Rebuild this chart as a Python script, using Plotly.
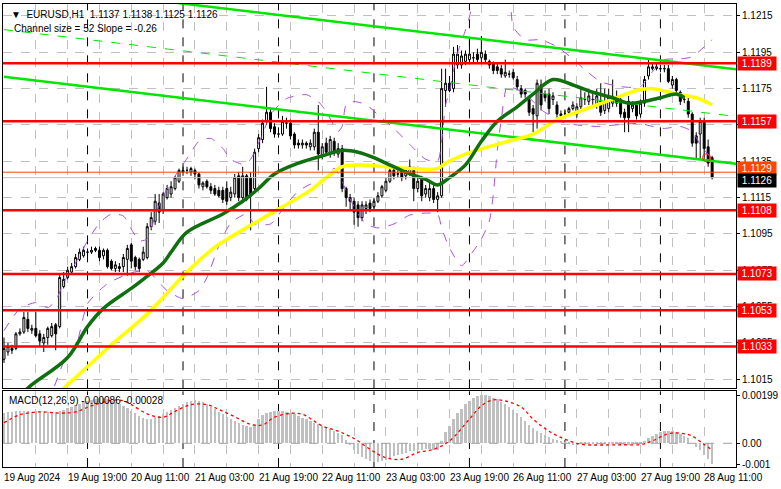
import plotly.graph_objects as go
from plotly.subplots import make_subplots

# ---------------- data ----------------
bars = list(range(179))
opens = [1.1026,1.1030,1.1032,1.1032,1.1040,1.1041,1.1048,1.1042,1.1043,1.1040,
         1.1035,1.1038,1.1039,1.1045,1.1044,1.1066,1.1071,1.1074,1.1077,1.1081,
         1.1083,1.1085,1.1085,1.1087,1.1086,1.1083,1.1086,1.1080,1.1076,1.1077,
         1.1077,1.1081,1.1089,1.1082,1.1081,1.1081,1.1082,1.1099,1.1102,1.1112,
         1.1108,1.1115,1.1117,1.1120,1.1124,1.1129,1.1130,1.1129,1.1130,1.1128,
         1.1121,1.1124,1.1121,1.1120,1.1119,1.1119,1.1120,1.1115,1.1117,1.1127,
         1.1115,1.1127,1.1126,1.1120,1.1142,1.1147,1.1157,1.1162,1.1154,1.1150,
         1.1150,1.1156,1.1156,1.1150,1.1145,1.1144,1.1145,1.1143,1.1143,1.1151,
         1.1138,1.1145,1.1139,1.1146,1.1139,1.1142,1.1120,1.1115,1.1113,1.1111,
         1.1104,1.1109,1.1112,1.1110,1.1113,1.1116,1.1119,1.1124,1.1130,1.1128,
         1.1130,1.1127,1.1128,1.1130,1.1120,1.1125,1.1117,1.1115,1.1120,1.1114,
         1.1116,1.1174,1.1178,1.1175,1.1188,1.1188,1.1190,1.1191,1.1192,1.1194,
         1.1192,1.1194,1.1190,1.1189,1.1187,1.1186,1.1182,1.1183,1.1184,1.1180,
         1.1175,1.1174,1.1169,1.1164,1.1160,1.1177,1.1172,1.1172,1.1169,1.1166,
         1.1161,1.1161,1.1162,1.1164,1.1161,1.1165,1.1169,1.1168,1.1169,1.1166,
         1.1168,1.1163,1.1164,1.1167,1.1170,1.1169,1.1162,1.1168,1.1164,1.1166,
         1.1161,1.1167,1.1182,1.1186,1.1187,1.1186,1.1186,1.1186,1.1177,1.1180,
         1.1173,1.1169,1.1168,1.1161,1.1149,1.1150,1.1157,1.1143,1.1137]
highs = [1.1038,1.1035,1.1034,1.1041,1.1043,1.1052,1.1052,1.1045,1.1052,1.1042,
         1.1040,1.1044,1.1046,1.1046,1.1073,1.1074,1.1077,1.1079,1.1084,1.1087,
         1.1088,1.1087,1.1088,1.1088,1.1088,1.1087,1.1087,1.1081,1.1080,1.1079,
         1.1084,1.1089,1.1090,1.1083,1.1082,1.1088,1.1101,1.1107,1.1117,1.1117,
         1.1118,1.1122,1.1124,1.1127,1.1131,1.1132,1.1132,1.1132,1.1131,1.1129,
         1.1124,1.1125,1.1123,1.1122,1.1121,1.1121,1.1124,1.1121,1.1128,1.1129,
         1.1132,1.1128,1.1129,1.1142,1.1150,1.1158,1.1176,1.1164,1.1156,1.1152,
         1.1160,1.1159,1.1158,1.1151,1.1147,1.1147,1.1146,1.1147,1.1153,1.1166,
         1.1145,1.1148,1.1149,1.1148,1.1145,1.1144,1.1121,1.1117,1.1115,1.1113,
         1.1113,1.1113,1.1114,1.1115,1.1118,1.1122,1.1126,1.1131,1.1132,1.1130,
         1.1131,1.1131,1.1136,1.1132,1.1126,1.1127,1.1122,1.1123,1.1122,1.1118,
         1.1186,1.1186,1.1182,1.1198,1.1199,1.1196,1.1196,1.1202,1.1195,1.1197,
         1.1204,1.1196,1.1191,1.1190,1.1189,1.1188,1.1191,1.1185,1.1186,1.1182,
         1.1177,1.1175,1.1171,1.1166,1.1180,1.1180,1.1174,1.1175,1.1173,1.1168,
         1.1163,1.1163,1.1165,1.1168,1.1167,1.1175,1.1173,1.1175,1.1172,1.1175,
         1.1178,1.1175,1.1175,1.1180,1.1174,1.1171,1.1164,1.1171,1.1168,1.1168,
         1.1169,1.1182,1.1191,1.1189,1.1189,1.1188,1.1188,1.1188,1.1182,1.1181,
         1.1174,1.1171,1.1170,1.1162,1.1151,1.1159,1.1159,1.1147,1.1138]
lows = [1.1024,1.1028,1.1029,1.1031,1.1039,1.1040,1.1041,1.1040,1.1038,1.1033,
        1.1030,1.1034,1.1038,1.1031,1.1043,1.1065,1.1070,1.1073,1.1076,1.1080,
        1.1082,1.1083,1.1084,1.1085,1.1080,1.1081,1.1076,1.1075,1.1074,1.1074,
        1.1074,1.1072,1.1076,1.1075,1.1074,1.1080,1.1081,1.1097,1.1100,1.1101,
        1.1106,1.1114,1.1115,1.1119,1.1123,1.1127,1.1128,1.1127,1.1125,1.1120,
        1.1119,1.1120,1.1117,1.1116,1.1115,1.1112,1.1111,1.1113,1.1115,1.1113,
        1.1112,1.1113,1.1097,1.1118,1.1140,1.1145,1.1155,1.1151,1.1148,1.1148,
        1.1149,1.1153,1.1147,1.1142,1.1142,1.1142,1.1142,1.1141,1.1141,1.1130,
        1.1136,1.1138,1.1137,1.1138,1.1137,1.1118,1.1110,1.1108,1.1100,1.1099,
        1.1102,1.1106,1.1107,1.1108,1.1112,1.1115,1.1118,1.1123,1.1125,1.1126,
        1.1124,1.1125,1.1127,1.1113,1.1118,1.1113,1.1115,1.1113,1.1112,1.1107,
        1.1115,1.1165,1.1173,1.1173,1.1186,1.1186,1.1188,1.1189,1.1189,1.1189,
        1.1189,1.1189,1.1186,1.1183,1.1183,1.1181,1.1181,1.1181,1.1180,1.1174,
        1.1170,1.1170,1.1160,1.1151,1.1153,1.1163,1.1168,1.1161,1.1166,1.1159,
        1.1158,1.1159,1.1160,1.1163,1.1159,1.1163,1.1166,1.1166,1.1166,1.1164,
        1.1160,1.1161,1.1162,1.1165,1.1165,1.1159,1.1151,1.1151,1.1162,1.1158,
        1.1159,1.1165,1.1180,1.1185,1.1185,1.1184,1.1184,1.1178,1.1175,1.1172,
        1.1166,1.1167,1.1159,1.1143,1.1136,1.1136,1.1136,1.1132,1.1125]
closes = [1.1032,1.1033,1.1031,1.1040,1.1041,1.1049,1.1043,1.1043,1.1039,1.1036,
          1.1038,1.1043,1.1044,1.1040,1.1071,1.1070,1.1075,1.1077,1.1082,1.1085,
          1.1086,1.1085,1.1086,1.1086,1.1082,1.1086,1.1077,1.1076,1.1078,1.1076,
          1.1082,1.1087,1.1080,1.1077,1.1076,1.1085,1.1099,1.1104,1.1113,1.1107,
          1.1117,1.1120,1.1121,1.1126,1.1130,1.1130,1.1130,1.1131,1.1128,1.1122,
          1.1123,1.1121,1.1119,1.1117,1.1116,1.1114,1.1113,1.1118,1.1126,1.1115,
          1.1127,1.1114,1.1116,1.1140,1.1148,1.1156,1.1162,1.1153,1.1150,1.1150,
          1.1157,1.1156,1.1149,1.1144,1.1144,1.1145,1.1144,1.1145,1.1151,1.1139,
          1.1143,1.1140,1.1147,1.1140,1.1142,1.1120,1.1115,1.1113,1.1107,1.1104,
          1.1111,1.1111,1.1109,1.1113,1.1116,1.1121,1.1124,1.1130,1.1127,1.1128,
          1.1126,1.1130,1.1132,1.1120,1.1124,1.1116,1.1120,1.1120,1.1114,1.1116,
          1.1175,1.1178,1.1174,1.1194,1.1194,1.1193,1.1194,1.1194,1.1192,1.1191,
          1.1195,1.1191,1.1188,1.1185,1.1185,1.1183,1.1184,1.1183,1.1181,1.1176,
          1.1172,1.1172,1.1162,1.1161,1.1178,1.1166,1.1170,1.1164,1.1171,1.1161,
          1.1160,1.1161,1.1164,1.1166,1.1165,1.1170,1.1169,1.1171,1.1169,1.1171,
          1.1162,1.1168,1.1170,1.1170,1.1167,1.1161,1.1159,1.1159,1.1166,1.1160,
          1.1167,1.1180,1.1187,1.1187,1.1186,1.1186,1.1186,1.1179,1.1180,1.1174,
          1.1168,1.1169,1.1161,1.1145,1.1145,1.1157,1.1142,1.1134,1.1126]

# dark green moving average (read at sample bars)
ma_green_bars = [5,7,16,21,25,32,35,40,42,46,55,60,64,68,74,80,85,89,93,96,101,106,109,
                 112,116,120,124,129,133,138,143,148,153,157,161,165,169,171]
ma_green = [1.1008,1.1012,1.1027,1.1044,1.1054,1.1065,1.1070,1.1079,1.1085,1.1096,
            1.1106,1.1113,1.1120,1.1128,1.1134,1.1138,1.1141,1.1140,1.1137,1.1134,
            1.1129,1.1125,1.1122,1.1126,1.1133,1.1146,1.1157,1.1165,1.1172,1.1180,
            1.1177,1.1173,1.1170,1.1167,1.1168,1.1170,1.1172,1.1170]
# yellow moving average
ma_yellow_bars = [14,15,21,27,36,46,52,56,63,70,77,81,85,89,96,103,109,111,116,125,
                  133,139,144,149,154,159,163,169,174,178]
ma_yellow = [1.1008,1.1010,1.1022,1.1034,1.1051,1.1074,1.1086,1.1092,1.1101,1.1110,
             1.1119,1.1126,1.1132,1.1133,1.1132,1.1131,1.1131,1.1134,1.1139,1.1145,
             1.1150,1.1158,1.1162,1.1166,1.1170,1.1174,1.1175,1.1172,1.1170,1.1166]

# bands (purple dashed), read at sample bars
band_up_bars = [0,4,8,11,13,15,18,21,24,27,30,32,34,36,38,40,43,46,49,52,55,57,60,62,63,65,67,
                71,76,79,81,84,85,86,88,91,94,98,102,106,109,110,111,112,113,114,115,116,117,
                119,124,127,128,131,135,139,143,146,150,155,160,163,166,170,173,176,178]
band_up = [1.10418,1.10539,1.10572,1.10544,1.10583,1.10681,1.10791,1.10912,1.11010,1.11060,
           1.11049,1.10977,1.10912,1.10922,1.11049,1.11158,1.11268,1.11366,1.11460,1.11476,
           1.11421,1.11361,1.11334,1.11361,1.11405,1.11498,1.11607,1.11695,1.11717,1.11679,
           1.11624,1.11514,1.11542,1.11662,1.11679,1.11662,1.11607,1.11531,1.11443,1.11361,
           1.11350,1.11460,1.11662,1.11734,1.11849,1.11947,1.12008,1.12073,1.12145,1.12309,
           1.12337,1.12254,1.12090,1.12019,1.12019,1.11980,1.11914,1.11854,1.11788,1.11761,
           1.11761,1.11843,1.11909,1.11914,1.11925,1.11980,1.12019]
band_lo_bars = [10,12,15,18,21,26,32,36,41,45,49,51,54,57,61,63,67,71,74,77,81,83,85,86,89,91,
                94,98,102,106,109,110,112,115,118,120,122,123,124,125,126.5,128,131,135,140,
                145,150,155,160,163,166,170,173,175,178]
band_lo = [1.10035,1.10079,1.10243,1.10325,1.10566,1.10676,1.10736,1.10747,1.10638,1.10594,
           1.10638,1.10709,1.10884,1.11010,1.11060,1.11005,1.11005,1.11114,1.11186,1.11224,
           1.11257,1.11312,1.11240,1.11186,1.11060,1.11005,1.10983,1.11005,1.11054,1.11065,
           1.11060,1.10983,1.10873,1.10775,1.10857,1.10922,1.11021,1.11169,1.11410,1.11580,
           1.11766,1.11755,1.11723,1.11635,1.11569,1.11547,1.11542,1.11553,1.11558,1.11542,
           1.11531,1.11542,1.11514,1.11443,1.11361]

# linear regression channel
channel_bars = [0, 184]
channel_mid = [1.12075, 1.11597]
channel_half = 0.0026

# horizontal levels
red_levels = [1.1189, 1.1157, 1.1108, 1.1073, 1.1053, 1.1033]
orange_level = 1.1129
bid_level = 1.1126

# MACD histogram (main line) per bar, in 1e-5 units
macd_main = [123,127,130,131,132,133,131,130,133,130,127,128,130,128,132,138,145,150,156,162,
             168,174,179,182,185,184,180,175,168,160,152,145,134,124,112,104,98,100,106,112,
             120,128,136,145,155,163,170,175,176,174,168,160,150,140,128,118,108,98,90,82,
             76,70,66,80,98,115,125,130,132,133,132,130,125,118,112,105,98,90,84,78,
             72,65,58,50,42,32,12,-10,-28,-45,-58,-68,-74,-78,-78,-75,-70,-62,-55,-50,
             -45,-40,-35,-32,-28,-27,-26,-26,-28,-30,10,45,72,98,122,142,160,175,186,195,
             199,199,196,188,180,170,160,148,135,122,108,92,75,60,50,40,32,25,18,12,
             6,2,-4,-10,-9,-6,-5,-6,-5,-3,-5,-6,-4,-2,-3,-5,-7,-8,-6,-5,
             -4,8,20,30,38,44,48,50,48,44,38,30,20,0,-18,-30,-48,-68,-86]
macd_main = [v / 100000 for v in macd_main]
signal_bars = [0,4,9,14,18,22,27,30,32,36,40,43,47,51,54,58,62,65,68,72,75,80,84,88,92,96,
               100,104,108,112,117,120,123,126,130,133,137,141,145,150,155,160,163,167,170,
               173,176,178]
signal_vals = [85,118,130,125,130,155,178,176,160,122,108,132,160,160,140,110,78,76,108,124,
               120,72,50,20,-25,-60,-66,-38,-25,10,100,155,180,175,150,100,50,17,-4,-7,-6,
               -5,10,40,42,30,-5,-28]
signal_vals = [v / 100000 for v in signal_vals]

price_ticks = [1.1015,1.1035,1.1055,1.1075,1.1095,1.1115,1.1135,1.1155,1.1175,1.1195,1.1215]
time_tick_bars = [0,16,32,48,64,80,96,112,128,144,160,176]
time_tick_labels = ["19 Aug 2024","19 Aug 19:00","20 Aug 11:00","21 Aug 03:00","21 Aug 19:00",
                    "22 Aug 11:00","23 Aug 03:00","23 Aug 19:00","26 Aug 11:00","27 Aug 03:00",
                    "27 Aug 19:00","28 Aug 11:00"]
grid_bars = list(range(0, 185, 8))
day_sep_bars = [21,45,69,93,117,141,165]
alert_bar = [176.6]
alert_price = [1.1137]

# ---------------- figure ----------------
FONT = "Liberation Sans"
PURPLE = "#A64DDB"
fig = make_subplots(rows=2, cols=1, shared_xaxes=True, vertical_spacing=3/465,
                    row_heights=[386, 76])

fig.add_trace(go.Scatter(x=band_up_bars, y=band_up, mode="lines", line_shape="spline",
                         line=dict(color=PURPLE, width=1, dash="dash", smoothing=0.6),
                         showlegend=False), row=1, col=1)
fig.add_trace(go.Scatter(x=band_lo_bars, y=band_lo, mode="lines", line_shape="spline",
                         line=dict(color=PURPLE, width=1, dash="dash", smoothing=0.6),
                         showlegend=False), row=1, col=1)

fig.add_trace(go.Candlestick(
    x=bars, open=opens, high=highs, low=lows, close=closes,
    increasing=dict(line=dict(color="black", width=1), fillcolor="white"),
    decreasing=dict(line=dict(color="black", width=1), fillcolor="black"),
    whiskerwidth=0, showlegend=False, hoverinfo="skip"), row=1, col=1)

ch_top = [m + channel_half for m in channel_mid]
ch_bot = [m - channel_half for m in channel_mid]
fig.add_trace(go.Scatter(x=channel_bars, y=ch_top, mode="lines",
                         line=dict(color="#00E600", width=2.5), showlegend=False), row=1, col=1)
fig.add_trace(go.Scatter(x=channel_bars, y=ch_bot, mode="lines",
                         line=dict(color="#00E600", width=2.5), showlegend=False), row=1, col=1)
fig.add_trace(go.Scatter(x=channel_bars, y=channel_mid, mode="lines",
                         line=dict(color="#00E600", width=1, dash="dash"), showlegend=False), row=1, col=1)

fig.add_trace(go.Scatter(x=ma_yellow_bars, y=ma_yellow, mode="lines", line_shape="spline",
                         line=dict(color="#FFFF00", width=3.5), showlegend=False), row=1, col=1)
fig.add_trace(go.Scatter(x=ma_green_bars, y=ma_green, mode="lines", line_shape="spline",
                         line=dict(color="#107010", width=3.5), showlegend=False), row=1, col=1)

fig.add_trace(go.Scatter(x=alert_bar, y=alert_price, mode="markers",
                         marker=dict(symbol="circle-open", color="#FF2020", size=8, line=dict(width=1)),
                         showlegend=False), row=1, col=1)

fig.add_trace(go.Bar(x=bars, y=macd_main, marker=dict(color="#C0C0C0", line=dict(width=0)),
                     width=0.6, showlegend=False), row=2, col=1)
fig.add_trace(go.Scatter(x=signal_bars, y=signal_vals, mode="lines", line_shape="spline",
                         line=dict(color="#FF0000", width=1.3, dash="dot"), showlegend=False), row=2, col=1)

# levels
for lv in red_levels:
    fig.add_shape(type="line", xref="x domain", yref="y", x0=0, x1=1, y0=lv, y1=lv,
                  line=dict(color="#FF0000", width=2.5))
fig.add_shape(type="line", xref="x domain", yref="y", x0=0, x1=1, y0=orange_level, y1=orange_level,
              line=dict(color="#FF4500", width=1))
fig.add_shape(type="line", xref="x domain", yref="y", x0=0, x1=1, y0=bid_level, y1=bid_level,
              line=dict(color="#C0C0C0", width=1))
fig.add_shape(type="line", xref="x2 domain", yref="y2", x0=0, x1=1, y0=0, y1=0,
              line=dict(color="#A0A0A0", width=1, dash="dash"))
for b in day_sep_bars:
    fig.add_shape(type="line", xref="x", yref="y domain", x0=b, x1=b, y0=0, y1=1,
                  line=dict(color="black", width=1, dash="dash"), layer="below")
    fig.add_shape(type="line", xref="x2", yref="y2 domain", x0=b, x1=b, y0=0, y1=1,
                  line=dict(color="black", width=1, dash="dash"), layer="below")

axis_common = dict(showline=True, linecolor="black", linewidth=1, mirror=True, zeroline=False)
fig.update_xaxes(range=[-0.25, 184], tickvals=grid_bars, showticklabels=False, ticks="",
                 showgrid=True, gridcolor="#C0C0C0", griddash="dash", gridwidth=1,
                 rangeslider_visible=False, **axis_common)
fig.update_yaxes(side="right", range=[1.10100, 1.12216], tickvals=price_ticks,
                 ticktext=[f"{p:.4f}" for p in price_ticks], ticks="outside", ticklen=3,
                 tickcolor="black", showgrid=True, gridcolor="#C0C0C0", griddash="dash",
                 tickfont=dict(family=FONT, size=10, color="black"), **axis_common, row=1, col=1)
fig.update_yaxes(side="right", range=[-0.00098, 0.00215], tickvals=[0.00199, 0.0, -0.00086],
                 ticktext=["0.00199", "0.00", "-0.001"], ticks="outside", ticklen=3,
                 tickcolor="black", showgrid=False,
                 tickfont=dict(family=FONT, size=10, color="black"), **axis_common, row=2, col=1)

ann = []
for lv in red_levels:
    ann.append(dict(xref="paper", yref="y", x=1, y=lv, xanchor="left", xshift=1, text=f"{lv:.4f}",
                    showarrow=False, bgcolor="#FF0000", font=dict(family=FONT, size=10, color="white"),
                    borderpad=1, width=36))
ann.append(dict(xref="paper", yref="y", x=1, y=orange_level, xanchor="left", xshift=1, yshift=4,
                text=f"{orange_level:.4f}", showarrow=False, bgcolor="#FF4500",
                font=dict(family=FONT, size=10, color="white"), borderpad=1, width=36))
ann.append(dict(xref="paper", yref="y", x=1, y=bid_level, xanchor="left", xshift=1, yshift=-3,
                text=f"{bid_level:.4f}", showarrow=False, bgcolor="#000000",
                font=dict(family=FONT, size=10, color="white"), borderpad=1, width=36))
for b, t in zip(time_tick_bars, time_tick_labels):
    ann.append(dict(xref="x2", yref="paper", x=b, y=0, xanchor="left", yanchor="top", xshift=-2,
                    yshift=-3, text=t, showarrow=False, font=dict(family=FONT, size=10, color="black")))
ann.append(dict(xref="paper", yref="paper", x=0, y=1, xanchor="left", yanchor="top", xshift=6, yshift=-3,
                text="▼  EURUSD,H1  1.1137 1.1138 1.1125 1.1126", showarrow=False,
                font=dict(family=FONT, size=10, color="black")))
ann.append(dict(xref="paper", yref="paper", x=0, y=1, xanchor="left", yanchor="top", xshift=9, yshift=-17,
                text="Channel size = 52 Slope = -0.26", showarrow=False,
                font=dict(family=FONT, size=10, color="black")))
ann.append(dict(xref="x2 domain", yref="y2 domain", x=0, y=1, xanchor="left", yanchor="top", xshift=4, yshift=-2,
                text="MACD(12,26,9) -0.00086 -0.00028", showarrow=False,
                font=dict(family=FONT, size=10, color="black")))

fig.update_layout(width=781, height=489, margin=dict(l=3, r=41, t=2, b=22),
                  paper_bgcolor="white", plot_bgcolor="white", showlegend=False,
                  annotations=ann, bargap=0, hovermode=False)

fig.write_html("out.html", config={"displayModeBar": False},
               post_script="document.body.style.margin='0';")
